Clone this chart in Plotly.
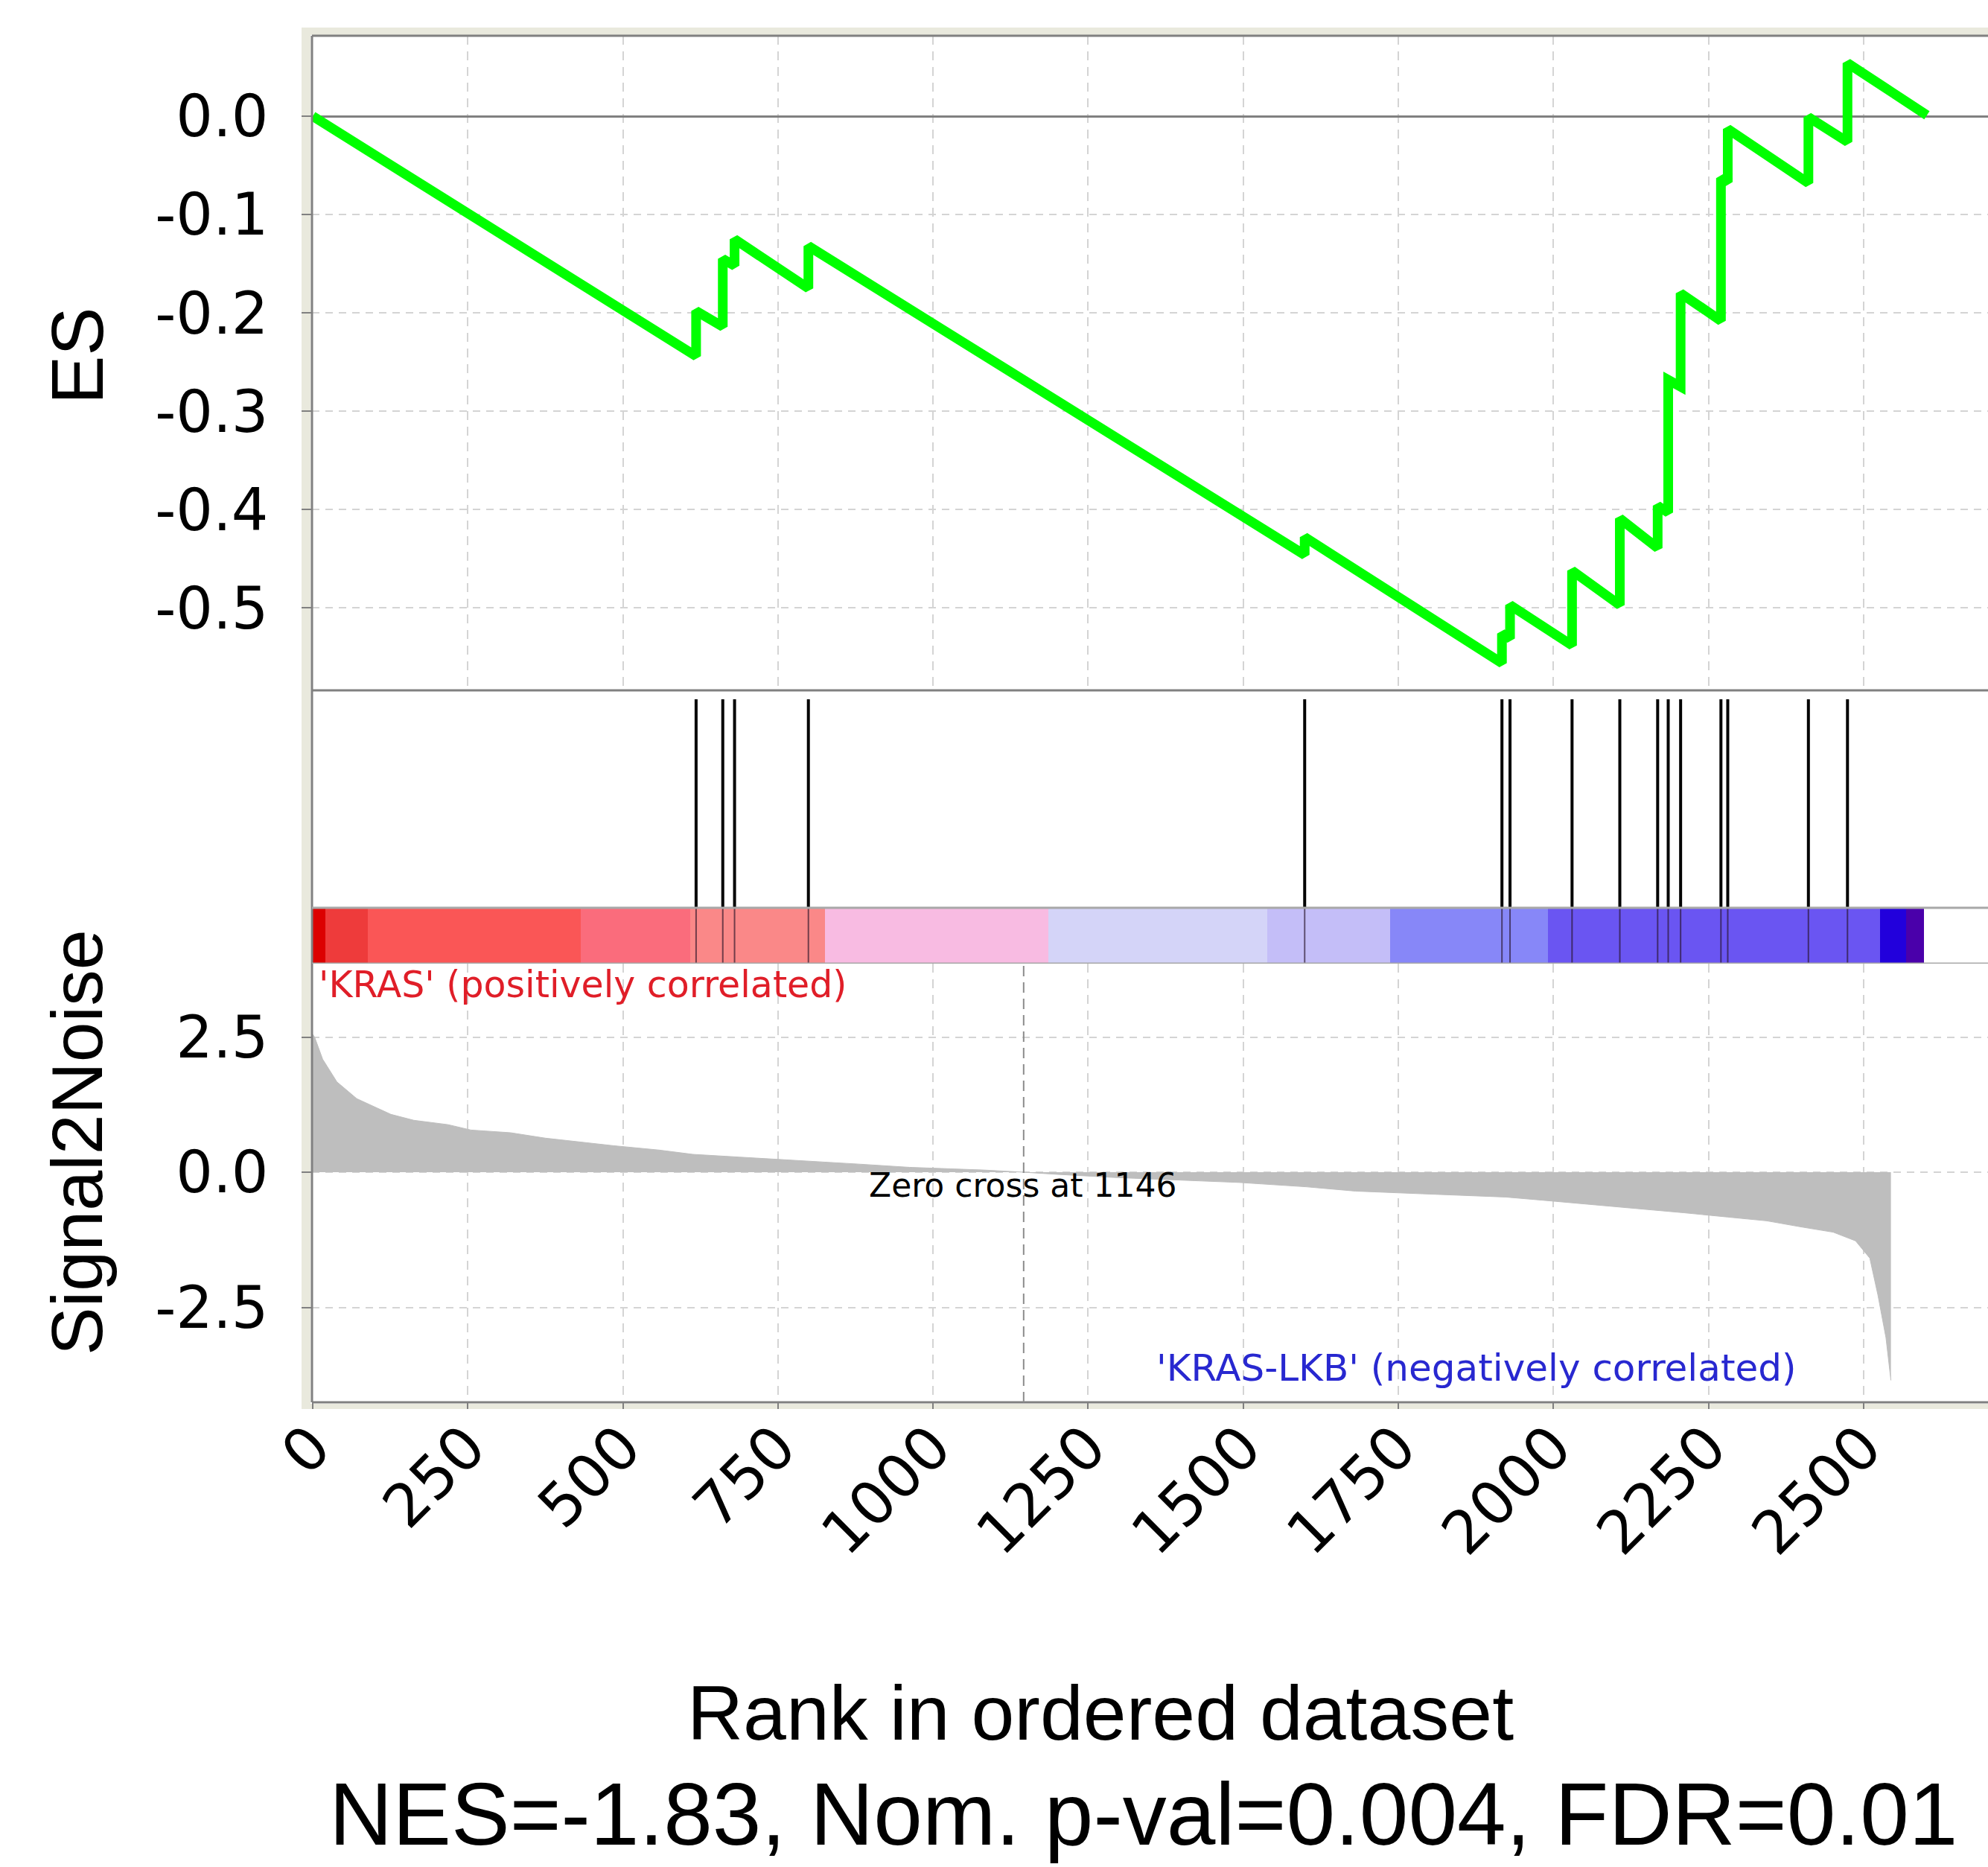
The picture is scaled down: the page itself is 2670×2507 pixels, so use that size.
import plotly.graph_objects as go

W, H = 2670, 2507

# Running enrichment score: vertices of the step curve (rank, ES)
es_rank = [0, 618, 618, 661, 661, 680, 680, 799, 799, 1599, 1599, 1917, 1917,
           1930, 1930, 2030, 2030, 2107, 2107, 2168, 2168, 2185, 2185, 2205,
           2205, 2270, 2270, 2281, 2281, 2411, 2411, 2474, 2474, 2602]
es_value = [0.0, -0.244, -0.198, -0.214, -0.145, -0.152, -0.125, -0.175,
            -0.132, -0.446, -0.428, -0.556, -0.526, -0.531, -0.497, -0.538,
            -0.462, -0.497, -0.409, -0.439, -0.396, -0.403, -0.268, -0.275,
            -0.180, -0.208, -0.063, -0.067, -0.013, -0.068, -0.001, -0.026,
            0.054, 0.001]

# Positions of the gene-set members in the ranked list
hit_ranks = [618, 661, 680, 799, 1599, 1917, 1930, 2030, 2107, 2168, 2185,
             2205, 2270, 2281, 2411, 2474]

# Ranked list metric (Signal2Noise) profile
s2n_rank = [0, 3, 16, 39, 71, 126, 163, 218, 255, 319, 375, 420, 485, 558,
            613, 687, 797, 880, 962, 1082, 1146, 1200, 1296, 1386, 1493, 1601,
            1681, 1789, 1923, 2004, 2084, 2210, 2281, 2344, 2398, 2451, 2487,
            2510, 2523, 2536, 2544]
s2n_value = [2.55, 2.50, 2.09, 1.67, 1.36, 1.07, 0.96, 0.88, 0.78, 0.73, 0.63,
             0.57, 0.49, 0.41, 0.33, 0.28, 0.21, 0.15, 0.09, 0.04, 0.0, -0.04,
             -0.10, -0.14, -0.19, -0.27, -0.35, -0.40, -0.46, -0.54, -0.62,
             -0.75, -0.83, -0.90, -1.01, -1.11, -1.27, -1.59, -2.27, -3.06,
             -3.85]

# Colour band along the ranked list (segment edges in rank units)
band_edges = [0, 20, 89, 432, 608, 826, 1186, 1539, 1737, 1991, 2526, 2569, 2597]
band_colors = ["#DC0000", "#EE3B3B", "#FA5656", "#FA6C7C", "#FA8888",
               "#F8BBE2", "#D4D4F8", "#C4BEF8", "#8787F8", "#6A55F2",
               "#2200DC", "#4A00AA"]

zero_cross = 1146

x_ticks = [0, 250, 500, 750, 1000, 1250, 1500, 1750, 2000, 2250, 2500]
x_ticktext = [str(v) for v in x_ticks]
es_ticks = [0.0, -0.1, -0.2, -0.3, -0.4, -0.5]
es_ticktext = ["0.0", "-0.1", "-0.2", "-0.3", "-0.4", "-0.5"]
s2n_ticks = [2.5, 0.0, -2.5]
s2n_ticktext = ["2.5", "0.0", "-2.5"]


def fx(px):
    return px / W


def fy(py):
    return 1 - py / H


X_LEFT = 419
X_RANGE = [-1.2, 2700.5]
ES_TOP, ES_BOT = 48, 927
HIT_BOT = 1294
S2N_BOT = 1883
BAND_TOP_FRAC = (HIT_BOT - 1219) / (HIT_BOT - ES_BOT)
HIT_TOP_FRAC = (HIT_BOT - 939) / (HIT_BOT - ES_BOT)

ES_RANGE = [-0.5837, 0.0818]
S2N_RANGE = [-4.256, 3.857]

GRID = "#D4D4D4"
AXIS = "#808080"
TICKFONT = dict(family="DejaVu Sans", size=78, color="black")
XTICKFONT = dict(family="DejaVu Sans", size=80, color="black")

fig = go.Figure()

# Enrichment score curve
fig.add_trace(go.Scatter(
    x=es_rank, y=es_value, mode="lines", xaxis="x", yaxis="y",
    line=dict(color="#00FF00", width=13), hoverinfo="skip"))

# Colour band
band_centers = [(a + b) / 2 for a, b in zip(band_edges[:-1], band_edges[1:])]
band_widths = [b - a for a, b in zip(band_edges[:-1], band_edges[1:])]
fig.add_trace(go.Bar(
    x=band_centers, y=[BAND_TOP_FRAC] * len(band_centers), width=band_widths,
    base=0, xaxis="x2", yaxis="y2", marker=dict(color=band_colors, line=dict(width=0)),
    hoverinfo="skip"))

# Hit lines (through the band and above it)
hx, hy, bx, by = [], [], [], []
for r in hit_ranks:
    hx += [r, r, None]
    hy += [BAND_TOP_FRAC, HIT_TOP_FRAC, None]
    bx += [r, r, None]
    by += [0, BAND_TOP_FRAC, None]
fig.add_trace(go.Scatter(x=bx, y=by, mode="lines", xaxis="x2", yaxis="y2",
                         line=dict(color="rgba(40,20,40,0.65)", width=2),
                         hoverinfo="skip"))
fig.add_trace(go.Scatter(x=hx, y=hy, mode="lines", xaxis="x2", yaxis="y2",
                         line=dict(color="black", width=4), hoverinfo="skip"))

# Signal2Noise profile
fig.add_trace(go.Scatter(
    x=s2n_rank, y=s2n_value, mode="lines", fill="tozeroy", xaxis="x3", yaxis="y3",
    fillcolor="#BEBEBE", line=dict(color="#BEBEBE", width=1), hoverinfo="skip"))

common_x = dict(domain=[fx(X_LEFT), 1], range=X_RANGE, tickvals=x_ticks,
                zeroline=False, showline=False, automargin=False, fixedrange=True)

shapes = [
    # frame strips
    dict(type="rect", xref="paper", yref="paper", x0=fx(405), x1=1, y0=fy(47), y1=fy(37),
         fillcolor="#E9E9DD", line=dict(width=0), layer="below"),
    dict(type="rect", xref="paper", yref="paper", x0=fx(405), x1=fx(417), y0=fy(1892), y1=fy(37),
         fillcolor="#E9E9DD", line=dict(width=0), layer="below"),
    dict(type="rect", xref="paper", yref="paper", x0=fx(405), x1=1, y0=fy(1892), y1=fy(1885),
         fillcolor="#E9E9DD", line=dict(width=0), layer="below"),
    # panel borders
    dict(type="line", xref="paper", yref="paper", x0=fx(X_LEFT), x1=1, y0=fy(ES_TOP), y1=fy(ES_TOP),
         line=dict(color=AXIS, width=3)),
    dict(type="line", xref="paper", yref="paper", x0=fx(X_LEFT), x1=1, y0=fy(ES_BOT), y1=fy(ES_BOT),
         line=dict(color=AXIS, width=3)),
    dict(type="line", xref="paper", yref="paper", x0=fx(X_LEFT), x1=1, y0=fy(S2N_BOT), y1=fy(S2N_BOT),
         line=dict(color=AXIS, width=3)),
    dict(type="line", xref="paper", yref="paper", x0=fx(X_LEFT), x1=fx(X_LEFT), y0=fy(S2N_BOT), y1=fy(ES_TOP),
         line=dict(color=AXIS, width=3)),
    # band border lines
    dict(type="line", xref="paper", yref="y2", x0=fx(X_LEFT), x1=1, y0=BAND_TOP_FRAC, y1=BAND_TOP_FRAC,
         line=dict(color="#A8A8A8", width=3)),
    dict(type="line", xref="paper", yref="y2", x0=fx(X_LEFT), x1=1, y0=0, y1=0,
         line=dict(color="#A8A8A8", width=3)),
    # zero-cross marker
    dict(type="line", xref="x3", yref="y3 domain", x0=zero_cross, x1=zero_cross, y0=0, y1=1,
         line=dict(color="#8C8C8C", width=2, dash="14px,8px")),
]

annotations = [
    dict(text="'KRAS' (positively correlated)", x=fx(426), y=fy(1322), xref="paper", yref="paper",
         xanchor="left", yanchor="middle", showarrow=False,
         font=dict(family="DejaVu Sans", size=49, color="#E01E28")),
    dict(text="Zero cross at 1146", x=fx(1165), y=fy(1591), xref="paper", yref="paper",
         xanchor="left", yanchor="middle", showarrow=False,
         font=dict(family="DejaVu Sans", size=44, color="black")),
    dict(text="'KRAS-LKB' (negatively correlated)", x=fx(1551), y=fy(1837), xref="paper", yref="paper",
         xanchor="left", yanchor="middle", showarrow=False,
         font=dict(family="DejaVu Sans", size=50, color="#2828D0")),
    dict(text="ES", x=fx(104), y=fy(478), xref="paper", yref="paper", textangle=-90,
         xanchor="center", yanchor="middle", showarrow=False,
         font=dict(family="Liberation Sans, Arial", size=98, color="black")),
    dict(text="Signal2Noise", x=fx(103), y=fy(1534), xref="paper", yref="paper", textangle=-90,
         xanchor="center", yanchor="middle", showarrow=False,
         font=dict(family="Liberation Sans, Arial", size=97, color="black")),
    dict(text="Rank in ordered dataset", x=fx(1478), y=fy(2300), xref="paper", yref="paper",
         xanchor="center", yanchor="middle", showarrow=False,
         font=dict(family="Liberation Sans, Arial", size=104, color="black")),
    dict(text="NES=-1.83, Nom. p-val=0.004, FDR=0.01", x=fx(1535), y=fy(2436), xref="paper", yref="paper",
         xanchor="center", yanchor="middle", showarrow=False,
         font=dict(family="Liberation Sans, Arial", size=118, color="black")),
]

fig.update_layout(
    width=W, height=H, margin=dict(l=0, r=0, t=0, b=0),
    paper_bgcolor="white", plot_bgcolor="white", showlegend=False,
    hovermode=False, bargap=0,
    font=dict(family="Liberation Sans, Arial", color="black"),
    xaxis=dict(anchor="y", showticklabels=False, ticks="", showgrid=True,
               gridcolor=GRID, gridwidth=2, griddash="12px,9px", **common_x),
    xaxis2=dict(anchor="y2", showticklabels=False, ticks="", showgrid=False, **common_x),
    xaxis3=dict(anchor="y3", ticktext=x_ticktext, tickangle=-45, ticks="outside",
                ticklen=8, tickwidth=2, tickcolor=AXIS, tickfont=XTICKFONT,
                ticklabelstandoff=-28, showgrid=True, gridcolor=GRID, gridwidth=2,
                griddash="12px,9px", **common_x),
    yaxis=dict(anchor="x", domain=[fy(ES_BOT), fy(ES_TOP)], range=ES_RANGE,
               tickvals=es_ticks, ticktext=es_ticktext, ticks="outside", ticklen=13,
               tickwidth=2, tickcolor=AXIS, tickfont=TICKFONT, ticklabelstandoff=29,
               showgrid=True, gridcolor=GRID, gridwidth=2, griddash="10px,8px",
               zeroline=True, zerolinecolor=AXIS, zerolinewidth=3,
               showline=False, automargin=False, fixedrange=True),
    yaxis2=dict(anchor="x2", domain=[fy(HIT_BOT), fy(ES_BOT)], range=[0, 1],
                showticklabels=False, ticks="", showgrid=False, zeroline=False,
                showline=False, automargin=False, fixedrange=True),
    yaxis3=dict(anchor="x3", domain=[fy(S2N_BOT), fy(HIT_BOT)], range=S2N_RANGE,
                tickvals=s2n_ticks, ticktext=s2n_ticktext, ticks="outside", ticklen=13,
                tickwidth=2, tickcolor=AXIS, tickfont=TICKFONT, ticklabelstandoff=29,
                showgrid=True, gridcolor=GRID, gridwidth=2, griddash="10px,8px",
                zeroline=False, showline=False, automargin=False, fixedrange=True),
    shapes=shapes,
    annotations=annotations,
)

fig.write_html("out.html")
